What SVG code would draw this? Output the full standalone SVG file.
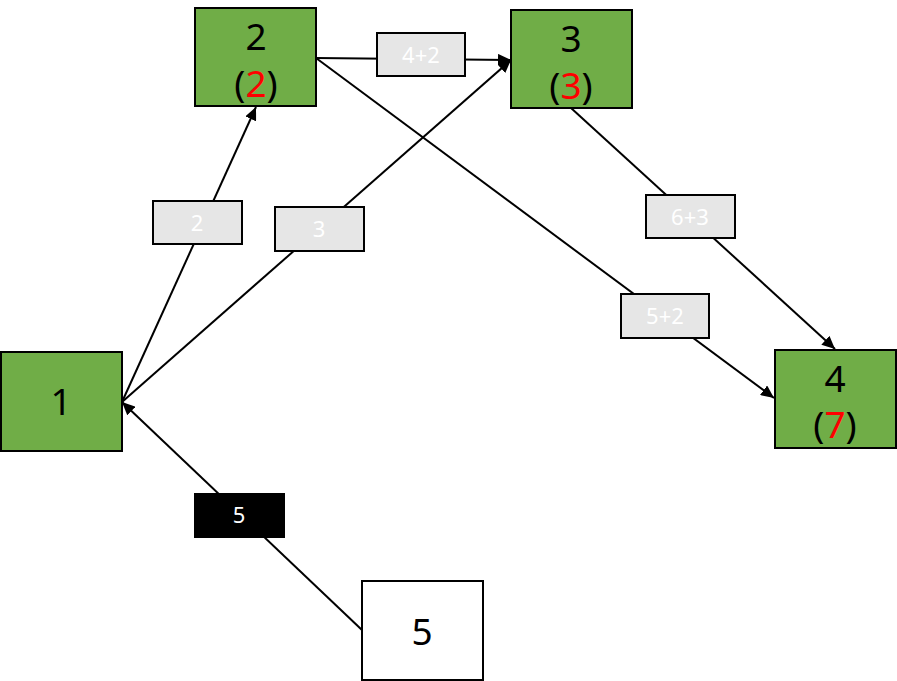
<svg xmlns="http://www.w3.org/2000/svg" width="897" height="681" viewBox="0 0 897 681">
<style>
.node{fill:#70ad47;stroke:#000;stroke-width:2}
.plain{fill:#fff;stroke:#000;stroke-width:2}
.lbl{fill:#e6e6e6;stroke:#000;stroke-width:2}
.conn{stroke:#000;stroke-width:2;fill:none}
.nt{font-family:"Noto Sans","Open Sans",sans-serif;font-size:37px;fill:#000;text-anchor:middle}
.lt{font-family:"Noto Sans","Open Sans",sans-serif;font-size:22px;fill:#fff;text-anchor:middle}
.red{fill:#ff0000}
</style>
<defs>
<marker id="arr" markerUnits="userSpaceOnUse" markerWidth="14" markerHeight="12" refX="13" refY="6" orient="auto">
<path d="M0,0 L13,6 L0,12 Z" fill="#000"/>
</marker>
</defs>
<rect width="897" height="681" fill="#fff"/>
<g id="connectors">
<line class="conn" x1="122" y1="402" x2="256" y2="107" marker-end="url(#arr)"/>
<line class="conn" x1="122" y1="402" x2="511" y2="60" marker-end="url(#arr)"/>
<line class="conn" x1="316" y1="58" x2="511" y2="60" marker-end="url(#arr)"/>
<line class="conn" x1="316" y1="58" x2="774" y2="398" marker-end="url(#arr)"/>
<line class="conn" x1="571" y1="108" x2="835" y2="349" marker-end="url(#arr)"/>
<line class="conn" x1="362" y1="630" x2="122" y2="402" marker-end="url(#arr)"/>
</g>
<g id="labels">
<g id="label-4plus2"><rect class="lbl" x="377" y="33" width="88" height="43"/><text class="lt" x="421" y="63">4+2</text></g>
<g id="label-2"><rect class="lbl" x="153" y="201" width="89" height="43"/><text class="lt" x="197" y="231">2</text></g>
<g id="label-3"><rect class="lbl" x="275" y="207" width="89" height="44"/><text class="lt" x="319" y="237">3</text></g>
<g id="label-6plus3"><rect class="lbl" x="646" y="195" width="89" height="43"/><text class="lt" x="690" y="225">6+3</text></g>
<g id="label-5plus2"><rect class="lbl" x="621" y="294" width="88" height="44"/><text class="lt" x="665" y="324">5+2</text></g>
<g id="label-5"><rect x="194" y="493" width="91" height="45" fill="#000"/><text class="lt" x="239" y="523">5</text></g>
</g>
<g id="node1"><rect class="node" x="1" y="352" width="121" height="99"/><text class="nt" x="61" y="415">1</text></g>
<g id="node2"><rect class="node" x="195" y="8" width="121" height="98"/><text class="nt" x="256" y="50">2</text><text class="nt" x="256" y="97">(<tspan class="red">2</tspan>)</text></g>
<g id="node3"><rect class="node" x="511" y="10" width="121" height="98"/><text class="nt" x="571" y="52">3</text><text class="nt" x="571" y="99">(<tspan class="red">3</tspan>)</text></g>
<g id="node4"><rect class="node" x="775" y="350" width="121" height="98"/><text class="nt" x="835" y="392">4</text><text class="nt" x="835" y="438">(<tspan class="red">7</tspan>)</text></g>
<g id="node5"><rect class="plain" x="362" y="581" width="121" height="99"/><text class="nt" x="422" y="645">5</text></g>
</svg>
